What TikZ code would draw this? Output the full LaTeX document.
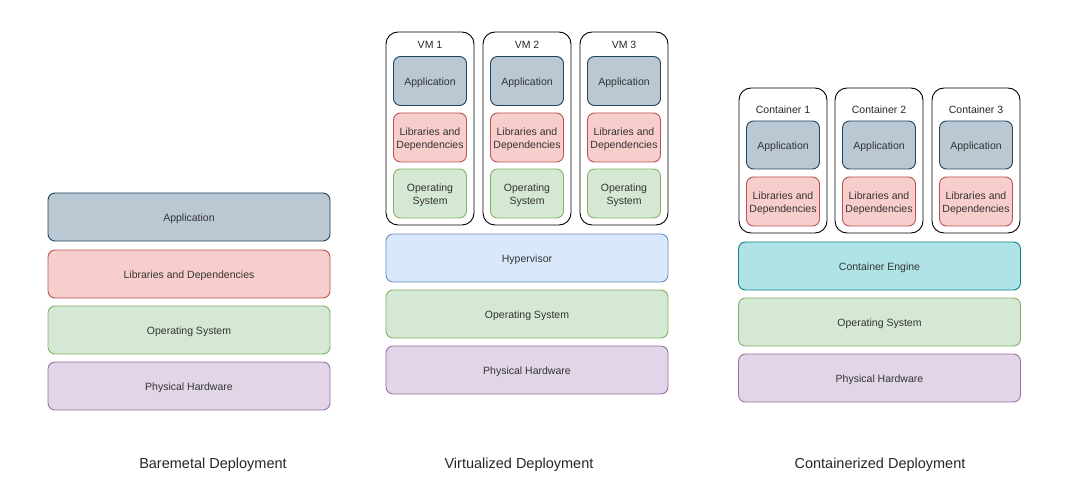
\documentclass[tikz,border=0pt]{standalone}
\usepackage{fontspec}
\setmainfont{Liberation Sans}
\begin{document}
\begin{tikzpicture}[x=1pt,y=-1pt,
  base/.style={draw, rounded corners=7pt, line width=0.9pt, inner sep=0pt, outer sep=0pt, align=center, text=black!80, font=\fontsize{10.5}{13}\selectfont, text height=11.6pt, text depth=2.2pt},
  two/.style={text height=24.6pt, text depth=2.2pt},
  app/.style={base, fill={rgb,255:red,186;green,200;blue,211}, draw={rgb,255:red,35;green,68;blue,93}},
  lib/.style={base, fill={rgb,255:red,248;green,206;blue,204}, draw={rgb,255:red,184;green,84;blue,80}},
  os/.style={base, fill={rgb,255:red,213;green,232;blue,212}, draw={rgb,255:red,130;green,179;blue,102}},
  hw/.style={base, fill={rgb,255:red,225;green,213;blue,231}, draw={rgb,255:red,150;green,115;blue,166}},
  hyp/.style={base, fill={rgb,255:red,218;green,232;blue,252}, draw={rgb,255:red,108;green,142;blue,191}},
  eng/.style={base, fill={rgb,255:red,176;green,227;blue,230}, draw={rgb,255:red,14;green,128;blue,136}},
  frame/.style={draw=black, rounded corners=12pt, line width=0.9pt, inner sep=0pt, outer sep=0pt, fill=white},
  big/.style={minimum width=282pt, minimum height=48pt},
  small/.style={minimum width=73pt, minimum height=49pt},
  framelabel/.style={font=\fontsize{10.5}{13}\selectfont, text=black!85, inner sep=0pt},
  title/.style={font=\fontsize{14.5}{17}\selectfont, text=black!85, inner sep=0pt}
]
\useasboundingbox (0,0) rectangle (1080,500);
% Baremetal
\node[app, big] (bapp) at (189,217) {Application};
\node[lib, big] (blib) at (189,274) {Libraries and Dependencies};
\node[os, big] (bos) at (189,330) {Operating System};
\node[hw, big] (bhw) at (189,386) {Physical Hardware};
\node[title] (btitle) at (213,465) {Baremetal Deployment};
% Virtualized
\foreach \i/\x in {1/430,2/527,3/624}{
  \node[frame, minimum width=88pt, minimum height=193pt] (vm\i) at (\x,128.5) {};
  \node[framelabel] (vml\i) at (\x,45) {VM \i};
  \node[app, small] (vapp\i) at (\x,81) {Application};
  \node[lib, small, two] (vlib\i) at (\x,137.5) {Libraries and\\Dependencies};
  \node[os, small, two] (vos\i) at (\x,193.5) {Operating\\System};
}
\node[hyp, big] (hyp) at (527,258) {Hypervisor};
\node[os, big] (vos) at (527,314) {Operating System};
\node[hw, big] (vhw) at (527,370) {Physical Hardware};
\node[title] (vtitle) at (519,465) {Virtualized Deployment};
% Containerized
\foreach \i/\x in {1/783,2/879,3/976}{
  \node[frame, minimum width=88pt, minimum height=145pt] (ct\i) at (\x,160.5) {};
  \node[framelabel] (ctl\i) at (\x,109.5) {Container \i};
  \node[app, small, minimum height=48pt] (capp\i) at (\x,145) {Application};
  \node[lib, small, two] (clib\i) at (\x,201.5) {Libraries and\\Dependencies};
}
\node[eng, big] (eng) at (879.5,266) {Container Engine};
\node[os, big] (cos) at (879.5,322) {Operating System};
\node[hw, big] (chw) at (879.5,378) {Physical Hardware};
\node[title] (ctitle) at (880,465) {Containerized Deployment};
\end{tikzpicture}
\end{document}
